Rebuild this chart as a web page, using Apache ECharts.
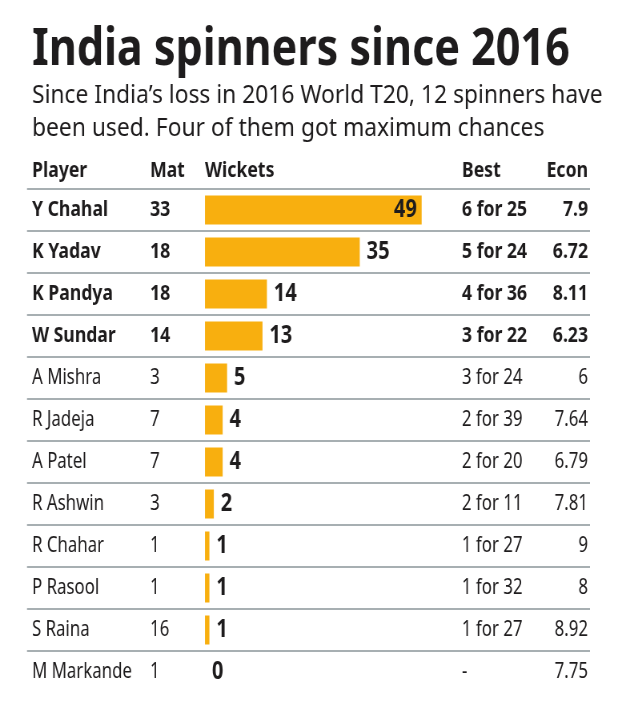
<!DOCTYPE html>
<html>
<head>
<meta charset="utf-8">
<script src="https://cdn.jsdelivr.net/npm/echarts@6/dist/echarts.min.js"></script>
<style>
html,body{margin:0;padding:0;background:#fff;overflow:hidden;width:626px;height:708px}
#c{width:782px;height:708px;transform:scaleX(0.80051);transform-origin:0 0}
</style>
</head>
<body>
<div id="c"></div>
<script>
const players = ['Y Chahal','K Yadav','K Pandya','W Sundar','A Mishra','R Jadeja','A Patel','R Ashwin','R Chahar','P Rasool','S Raina','M Markande'];
const matches = [33,18,18,14,3,7,7,3,1,1,16,1];
const wickets = [49,35,14,13,5,4,4,2,1,1,1,0];
const best = ['6 for 25','5 for 24','4 for 36','3 for 22','3 for 24','2 for 39','2 for 20','2 for 11','1 for 27','1 for 32','1 for 27','-'];
const econ = ['7.9','6.72','8.11','6.23','6','7.64','6.79','7.81','9','8','8.92','7.75'];
const headers = ['Player','Mat','Wickets','Best','Econ'];
const titleText = 'India spinners since 2016';
const subtitleText = 'Since India\u2019s loss in 2016 World T20, 12 spinners have\nbeen used. Four of them got maximum chances';
const boldRows = 4;

const FONT = "'Noto Sans','Open Sans',sans-serif";
const INK = '#1e1c1d';
const BAR = '#F8AF0F';

const chart = echarts.init(document.getElementById('c'), null, {renderer:'canvas'});

function rich(bold){
  const fs = bold ? 22 : 21;
  const fw = bold ? 'bold' : 'normal';
  const base = {fontFamily: FONT, fontSize: fs, fontWeight: fw, color: INK};
  return {
    n: Object.assign({width:147.4, align:'left'}, base),
    m: Object.assign({width:389.7, align:'left'}, base),
    b: Object.assign({width:107, align:'left'}, base),
    e: Object.assign({width:50.4, align:'right'}, base)
  };
}
const r0 = rich(false), r1 = rich(true);
const richAll = {n:r0.n, m:r0.m, b:r0.b, e:r0.e, N:r1.n, M:r1.m, B:r1.b, E:r1.e};

const hFont = 'bold 22px ' + FONT;

chart.setOption({
  backgroundColor:'#fff',
  animation:false,
  graphic:[
    {type:'text', x:40, y:24, scaleX:1.035, style:{text:titleText, font:'bold 52px '+FONT, fill:INK, textVerticalAlign:'top'}},
    {type:'text', x:40, y:79, scaleX:1.14, style:{text:subtitleText, font:'25px '+FONT, fill:INK, lineHeight:33, textVerticalAlign:'top'}},
    {type:'text', x:40, y:171, style:{text:headers[0], font:hFont, fill:INK, textVerticalAlign:'middle'}},
    {type:'text', x:187.4, y:171, style:{text:headers[1], font:hFont, fill:INK, textVerticalAlign:'middle'}},
    {type:'text', x:256.1, y:171, style:{text:headers[2], font:hFont, fill:INK, textVerticalAlign:'middle'}},
    {type:'text', x:577.1, y:171, style:{text:headers[3], font:hFont, fill:INK, textVerticalAlign:'middle'}},
    {type:'text', x:734.5, y:171, style:{text:headers[4], font:hFont, fill:INK, textAlign:'right', textVerticalAlign:'middle'}}
  ],
  grid:{left:33.73, right:45, top:189, height:504, containLabel:false},
  xAxis:{type:'value', min:-40.25, max:87.07, show:false},
  yAxis:{
    type:'category', inverse:true, data:players,
    axisLine:{show:false}, axisTick:{show:false},
    splitLine:{show:true, showMaxLine:false, lineStyle:{color:'#8a9598', width:1.6}},
    axisLabel:{
      inside:true, margin:6.27,
      formatter:function(v, i){
        const k = i < boldRows ? ['N','M','B','E'] : ['n','m','b','e'];
        return '{'+k[0]+'|'+v+'}{'+k[1]+'|'+matches[i]+'}{'+k[2]+'|'+best[i]+'}{'+k[3]+'|'+econ[i]+'}';
      },
      rich: richAll
    }
  },
  series:[{
    type:'bar', data:wickets.map(function(w,i){
      return {value:w, label: i===0 ? {position:'insideRight', distance:6} : {position:'right', distance:8.7}};
    }),
    barWidth:29,
    itemStyle:{color:BAR},
    label:{show:true, fontFamily:FONT, fontSize:25, fontWeight:'bold', color:INK}
  }]
});
</script>
</body>
</html>
